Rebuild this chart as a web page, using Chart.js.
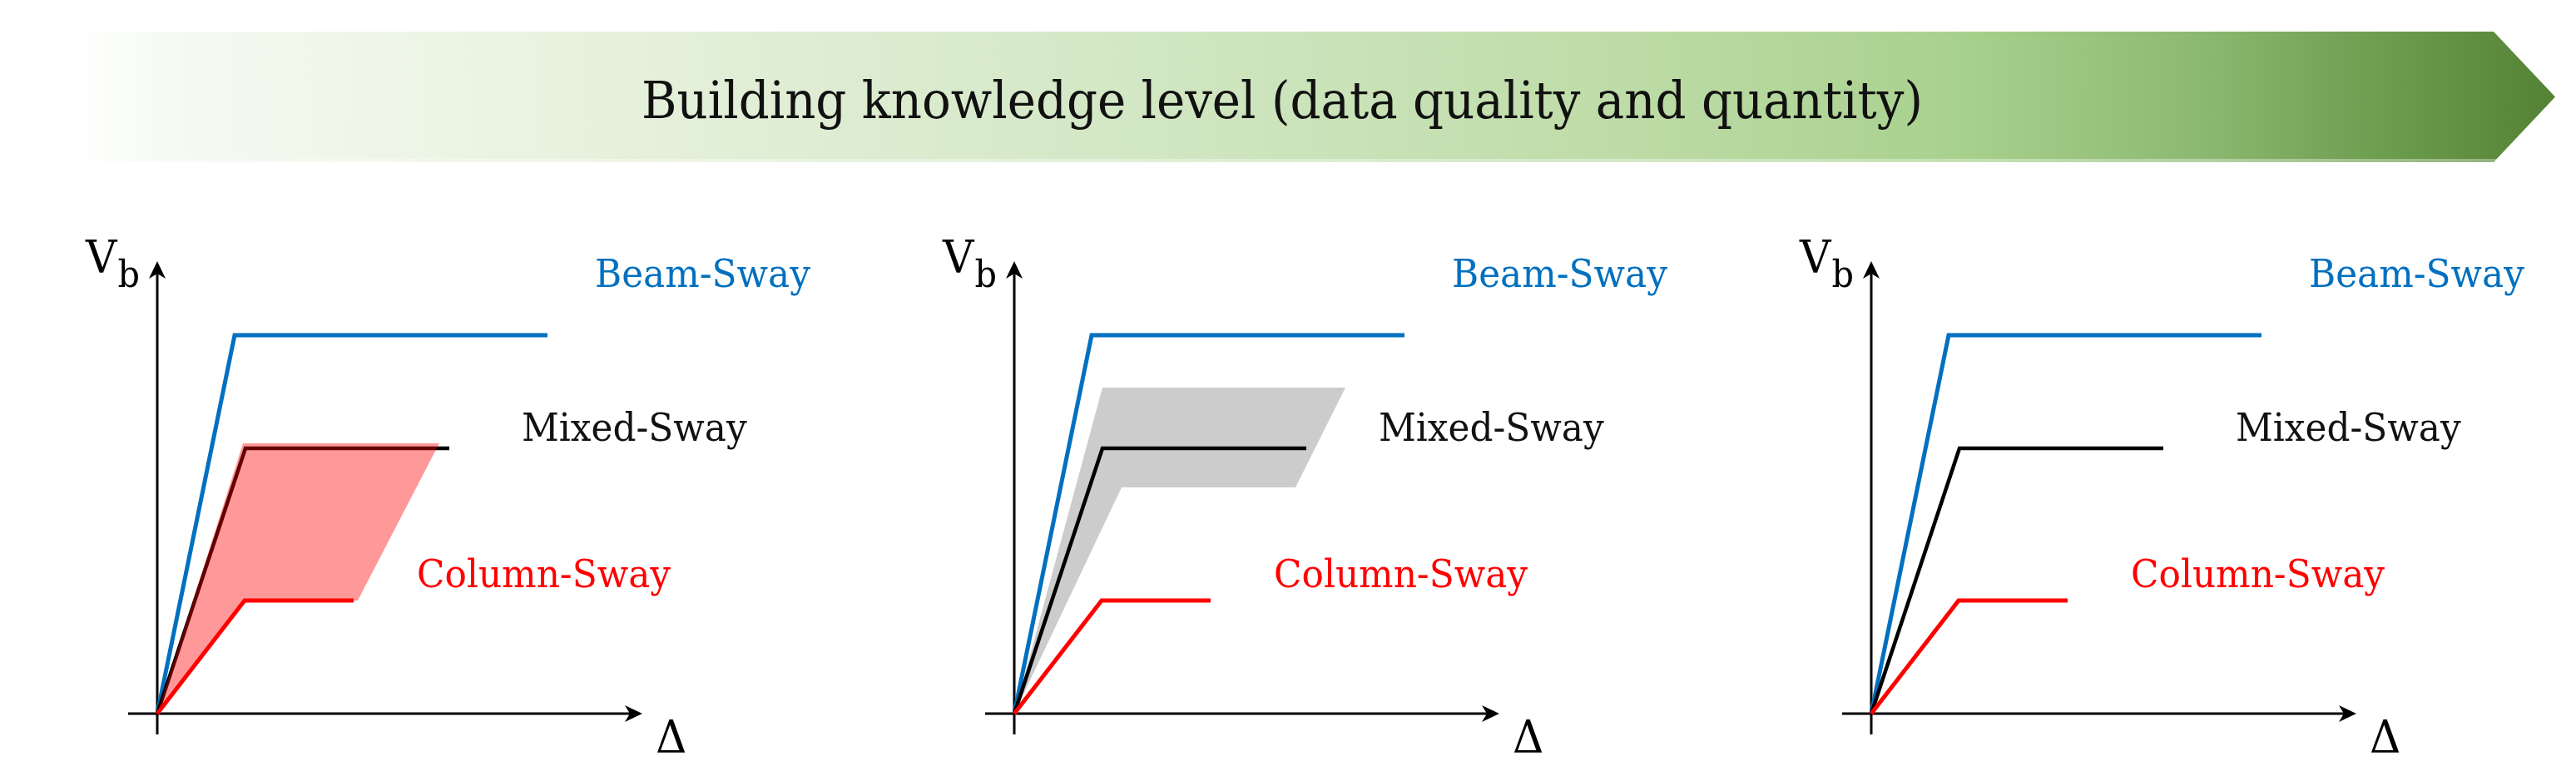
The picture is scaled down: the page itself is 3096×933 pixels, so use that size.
<!DOCTYPE html>
<html>
<head>
<meta charset="utf-8">
<script src="https://cdn.jsdelivr.net/npm/chart.js@4.4.1/dist/chart.umd.min.js"></script>
<style>
html,body{margin:0;padding:0;background:#fff;width:3096px;height:933px;overflow:hidden;}
#banner{position:absolute;left:85px;top:38px;width:2986px;height:157px;
 clip-path:polygon(0 0,2912px 0,100% 50%,2912px 100%,0 100%);
 background:linear-gradient(to right,#ffffff 0%,#f6faf2 4%,#e6f1dc 22%,#d2e7c4 43%,#bedca8 62%,#a9d18e 76%,#8bb870 86%,#6d9d4f 93%,#548235 100%);}
#banner .hl{position:absolute;left:0;right:0;bottom:0;height:4px;background:rgba(255,255,255,0.35);}
#title{position:absolute;left:85px;top:42px;width:2912px;height:157px;display:flex;align-items:center;justify-content:center;}
#title span{display:inline-block;font-family:"DejaVu Serif",serif;font-size:62px;color:#111;white-space:nowrap;transform-origin:50% 50%;}
.panel{position:absolute;top:240px;width:1000px;height:693px;}
</style>
</head>
<body>
<div id="banner"><div class="hl"></div></div>
<div id="title"><span>Building knowledge level (data quality and quantity)</span></div>
<div class="panel" id="p0" style="left:9px"><canvas id="c0" width="1000" height="693"></canvas></div>
<div class="panel" id="p1" style="left:1039px"><canvas id="c1" width="1000" height="693"></canvas></div>
<div class="panel" id="p2" style="left:2069px"><canvas id="c2" width="1000" height="693"></canvas></div>
<script>
// ---------- data (Δ and V_b in arbitrary units) ----------
const seriesNames = ["Beam-Sway", "Mixed-Sway", "Column-Sway"];
const beamDelta   = [0, 0.93, 4.69];
const beamVb      = [0, 4.55, 4.55];
const mixedDelta  = [0, 1.06, 3.51];
const mixedVb     = [0, 3.19, 3.19];
const columnDelta = [0, 1.05, 2.36];
const columnVb    = [0, 1.36, 1.36];
// uncertainty band, panel 1 (column-sway to mixed-sway)
const redBandDelta  = [0, 1.03, 3.39, 2.41, 1.06, 0];
const redBandVb     = [0, 3.25, 3.25, 1.36, 1.36, 0];
// uncertainty band, panel 2 (around mixed-sway)
const grayBandDelta = [0, 1.06, 3.98, 3.38, 1.29, 0];
const grayBandVb    = [0, 3.92, 3.92, 2.72, 2.72, 0];
const axisTitles = { y: ["V", "b"], x: "Δ" };

// ---------- styling ----------
const COLORS = { beam: "#0070c0", mixed: "#000000", column: "#ff0000",
                 redBand: "rgba(255,0,0,0.40)", grayBand: "#cccccc" };
const SERIF = '"DejaVu Serif",serif';

function pts(xs, ys){ return xs.map((x,i)=>({x:x, y:ys[i]})); }

// title: squeeze horizontally to the reference width
const tspan = document.querySelector('#title span');
tspan.style.transform = 'scaleX(' + (1540 / tspan.getBoundingClientRect().width).toFixed(4) + ')';

// label font: cap height ~34px, width squeezed to reference
const mctx = document.createElement('canvas').getContext('2d');
const LABEL_PX = 46.5;
mctx.font = LABEL_PX + 'px ' + SERIF;
const SQUEEZE = 305 / mctx.measureText("Column-Sway").width;

const labelPos = [
  { text: seriesNames[0], x: 5.26, y: 5.13, color: COLORS.beam },
  { text: seriesNames[1], x: 4.38, y: 3.28, color: "#111111" },
  { text: seriesNames[2], x: 3.12, y: 1.52, color: COLORS.column }
];

function sqText(ctx, text, px, py){
  ctx.save(); ctx.translate(px, py); ctx.scale(SQUEEZE, 1); ctx.fillText(text, 0, 0); ctx.restore();
  return ctx.measureText(text).width * SQUEEZE;
}

const axisPlugin = {
  id: 'axesArrows',
  beforeDatasetsDraw(chart){
    const {ctx, scales:{x, y}} = chart;
    const ox = x.getPixelForValue(0), oy = y.getPixelForValue(0);
    const xl = x.getPixelForValue(-0.35), xr = x.getPixelForValue(5.83);
    const yb = y.getPixelForValue(-0.25), yt = y.getPixelForValue(5.44);
    ctx.save();
    ctx.strokeStyle = '#000'; ctx.fillStyle = '#000'; ctx.lineWidth = 3;
    ctx.beginPath(); ctx.moveTo(xl, oy); ctx.lineTo(xr - 10, oy); ctx.stroke();
    ctx.beginPath(); ctx.moveTo(ox, yb); ctx.lineTo(ox, yt + 10); ctx.stroke();
    ctx.beginPath(); ctx.moveTo(xr, oy); ctx.lineTo(xr - 21, oy - 10); ctx.lineTo(xr - 15, oy); ctx.lineTo(xr - 21, oy + 10); ctx.closePath(); ctx.fill();
    ctx.beginPath(); ctx.moveTo(ox, yt); ctx.lineTo(ox - 10, yt + 21); ctx.lineTo(ox, yt + 15); ctx.lineTo(ox + 10, yt + 21); ctx.closePath(); ctx.fill();
    ctx.restore();
  },
  afterDatasetsDraw(chart){
    const {ctx, scales:{x, y}} = chart;
    ctx.save();
    ctx.textBaseline = 'alphabetic'; ctx.textAlign = 'left';
    ctx.font = LABEL_PX + 'px ' + SERIF;
    labelPos.forEach(l => {
      ctx.fillStyle = l.color;
      sqText(ctx, l.text, x.getPixelForValue(l.x), y.getPixelForValue(l.y));
    });
    ctx.fillStyle = '#000';
    ctx.font = '55px ' + SERIF;
    const vw = sqText(ctx, axisTitles.y[0], x.getPixelForValue(-0.86), y.getPixelForValue(5.30));
    ctx.font = '44px ' + SERIF;
    sqText(ctx, axisTitles.y[1], x.getPixelForValue(-0.86) + vw + 1, y.getPixelForValue(5.13));
    ctx.font = '55px ' + SERIF;
    sqText(ctx, axisTitles.x, x.getPixelForValue(5.99), y.getPixelForValue(-0.47));
    ctx.restore();
  }
};

function lineDs(label, xs, ys, color, width, order){
  return { label, data: pts(xs, ys), showLine: true, borderColor: color, borderWidth: width,
           pointRadius: 0, fill: false, order, borderJoinStyle: 'miter', borderCapStyle: 'butt', tension: 0 };
}
function bandDs(label, xs, ys, color, order){
  return { label, data: pts(xs, ys), showLine: true, borderColor: 'rgba(0,0,0,0)', borderWidth: 0.01,
           pointRadius: 0, fill: 'shape', backgroundColor: color, order, tension: 0 };
}

function makeChart(id, band){
  const ds = [
    lineDs(seriesNames[0], beamDelta, beamVb, COLORS.beam, 5, 4),
    lineDs(seriesNames[1], mixedDelta, mixedVb, COLORS.mixed, 4.5, 3),
    lineDs(seriesNames[2], columnDelta, columnVb, COLORS.column, 5, 1)
  ];
  if (band === 'red') ds.push(bandDs('band', redBandDelta, redBandVb, COLORS.redBand, 2));
  if (band === 'gray') ds.push(bandDs('band', grayBandDelta, grayBandVb, COLORS.grayBand, 6));
  new Chart(document.getElementById(id), {
    type: 'scatter',
    data: { datasets: ds },
    options: {
      responsive: false, animation: false, devicePixelRatio: 1,
      layout: { padding: 0 },
      plugins: { legend: { display: false }, tooltip: { enabled: false }, title: { display: false } },
      scales: {
        x: { type: 'linear', min: -1.80, max: 8.20, display: false },
        y: { type: 'linear', min: -0.75, max: 6.18, display: false }
      }
    },
    plugins: [axisPlugin]
  });
}
makeChart('c0', 'red');
makeChart('c1', 'gray');
makeChart('c2', null);
</script>
</body>
</html>
